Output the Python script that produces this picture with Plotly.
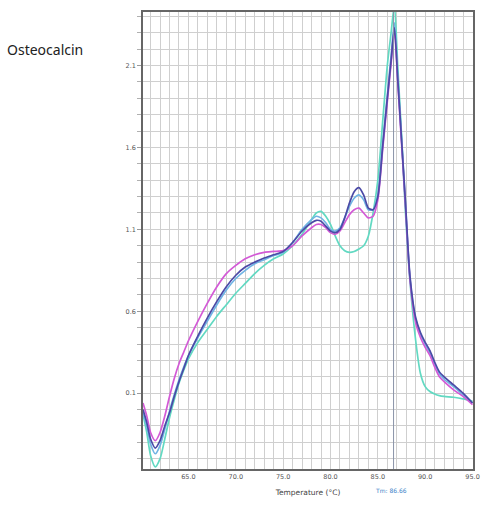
import plotly.graph_objects as go

# Melt-curve derivative data, Osteocalcin
temperature = [60.2, 60.6, 61.0, 61.5, 62.0, 62.5, 63.0, 63.5, 64.0, 64.5,
               65.0, 66.0, 67.0, 68.0, 69.0, 70.0, 71.0, 72.0, 73.0, 74.0,
               75.0, 76.0, 77.0, 78.0, 78.5, 79.0, 79.5, 80.0, 80.5, 81.0,
               81.5, 82.0, 82.5, 83.0, 83.5, 84.0, 84.5, 85.0, 85.5, 86.0,
               86.4, 86.75, 87.1, 87.5, 87.9, 88.4, 89.0, 89.5, 90.0, 90.5,
               91.0, 91.5, 92.0, 93.0, 94.0, 95.0]

sample_navy = [0.00, -0.08, -0.18, -0.235, -0.19, -0.10, -0.02, 0.08, 0.17, 0.25,
               0.33, 0.45, 0.56, 0.66, 0.75, 0.82, 0.87, 0.90, 0.925, 0.945,
               0.965, 1.02, 1.09, 1.14, 1.155, 1.15, 1.12, 1.09, 1.08, 1.10,
               1.17, 1.26, 1.33, 1.355, 1.31, 1.23, 1.22, 1.30, 1.60, 1.90,
               2.13, 2.33, 2.02, 1.65, 1.28, 0.81, 0.56, 0.47, 0.41, 0.36,
               0.29, 0.23, 0.20, 0.15, 0.10, 0.04]

sample_magenta = [0.04, -0.04, -0.14, -0.19, -0.14, -0.04, 0.08, 0.19, 0.28, 0.35,
                  0.42, 0.54, 0.65, 0.75, 0.83, 0.88, 0.92, 0.945, 0.96, 0.965,
                  0.97, 1.00, 1.06, 1.11, 1.13, 1.13, 1.11, 1.08, 1.07, 1.09,
                  1.14, 1.19, 1.22, 1.23, 1.20, 1.17, 1.18, 1.28, 1.58, 1.88,
                  2.11, 2.31, 2.00, 1.63, 1.26, 0.79, 0.53, 0.44, 0.38, 0.33,
                  0.26, 0.20, 0.17, 0.12, 0.08, 0.03]

sample_sky = [-0.02, -0.10, -0.21, -0.27, -0.22, -0.12, -0.01, 0.09, 0.18, 0.26,
              0.33, 0.44, 0.54, 0.64, 0.73, 0.80, 0.85, 0.89, 0.915, 0.94,
              0.96, 1.02, 1.10, 1.16, 1.18, 1.17, 1.14, 1.10, 1.09, 1.11,
              1.17, 1.24, 1.29, 1.31, 1.28, 1.22, 1.22, 1.31, 1.62, 1.92,
              2.16, 2.36, 2.04, 1.66, 1.28, 0.80, 0.55, 0.46, 0.40, 0.345,
              0.28, 0.22, 0.185, 0.14, 0.09, 0.04]

sample_mint = [-0.03, -0.14, -0.28, -0.35, -0.30, -0.18, -0.05, 0.06, 0.16, 0.24,
               0.31, 0.41, 0.49, 0.57, 0.64, 0.71, 0.77, 0.83, 0.88, 0.92,
               0.95, 1.00, 1.07, 1.16, 1.20, 1.21, 1.18, 1.13, 1.06, 1.00,
               0.97, 0.96, 0.965, 0.98, 1.00, 1.06, 1.20, 1.40, 1.75, 2.10,
               2.30, 2.47, 2.10, 1.68, 1.22, 0.78, 0.42, 0.22, 0.14, 0.11,
               0.095, 0.085, 0.08, 0.075, 0.065, 0.05]

tm_value = 86.66
x_tick_values = [65, 70, 75, 80, 85, 90, 95]
y_tick_values = [0.1, 0.6, 1.1, 1.6, 2.1]

series = [
    ("sample 4", sample_mint, "#62d9c2"),
    ("sample 3", sample_sky, "#70b4e4"),
    ("sample 2", sample_magenta, "#d35ad6"),
    ("sample 1", sample_navy, "#4b4aa6"),
]

fig = go.Figure()
for name, values, color in series:
    fig.add_trace(go.Scatter(
        x=temperature, y=values, name=name, mode="lines",
        line=dict(color=color, width=1.7, shape="spline", smoothing=0.7),
        showlegend=False, hoverinfo="skip",
    ))

# Tm marker line
fig.add_vline(x=tm_value, line=dict(color="#8a93a8", width=1))

fig.update_layout(
    width=481, height=507,
    margin=dict(l=143, r=8, t=12, b=38),
    paper_bgcolor="white", plot_bgcolor="white",
    font=dict(family="DejaVu Sans", color="#555555"),
)

fig.update_xaxes(
    range=[60.2, 95.05],
    automargin=False,
    tickvals=x_tick_values,
    ticktext=[f"{v:.1f}" for v in x_tick_values],
    tickfont=dict(size=6.5, color="#555555"),
    ticks="", showgrid=True, gridcolor="#cfcfcf", gridwidth=1,
    minor=dict(dtick=1, tick0=60, showgrid=True, gridcolor="#cfcfcf", gridwidth=1),
    showline=True, linecolor="#666666", linewidth=1.6, mirror=True,
    zeroline=False,
    title=dict(text="Temperature (°C)", font=dict(size=7.5, color="#444444"), standoff=10),
)

fig.update_yaxes(
    range=[-0.363, 2.427],
    automargin=False,
    tickvals=y_tick_values,
    ticktext=[f"{v:.1f}" for v in y_tick_values],
    tickfont=dict(size=6.5, color="#555555"),
    ticks="outside", ticklen=4, tickcolor="#9a9a9a",
    showgrid=True, gridcolor="#cfcfcf", gridwidth=1,
    minor=dict(dtick=0.1, tick0=0.1, showgrid=True, gridcolor="#cfcfcf", gridwidth=1,
               ticks="outside", ticklen=4, tickcolor="#b0b0b0"),
    showline=True, linecolor="#666666", linewidth=1.6, mirror=True,
    zeroline=False,
)

fig.add_annotation(
    text="Osteocalcin", xref="paper", yref="paper",
    x=(5 - 143) / 330, y=1 + (12 - 50) / 457,
    xanchor="left", yanchor="middle", showarrow=False,
    font=dict(family="Noto Sans", size=14, color="#222222"),
)

fig.add_annotation(
    text=f"Tm: {tm_value:.2f}", xref="x", yref="paper",
    x=tm_value - 0.3, y=-(490 - 469) / 457, xanchor="center", yanchor="middle",
    showarrow=False,
    font=dict(size=6, color="#3a7fc8"),
)

fig.write_html("out.html")
